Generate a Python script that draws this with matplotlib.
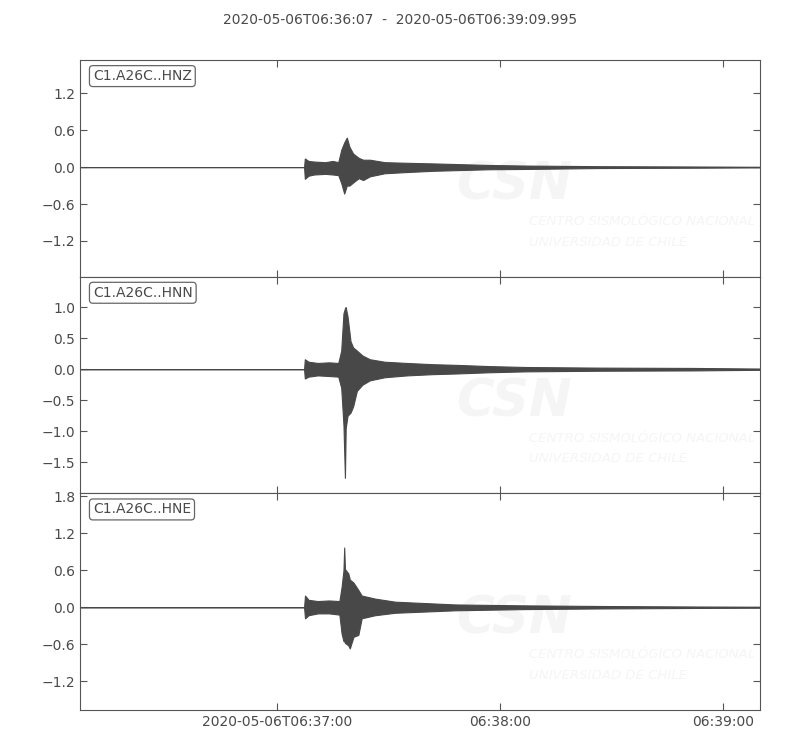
import numpy as np
import matplotlib.pyplot as plt

# --- Дані: огинаюча сейсмограм (секунди від 06:36:07, амплітуди) ---
t_end = 182.995
title = "2020-05-06T06:36:07  -  2020-05-06T06:39:09.995"
channels = ["C1.A26C..HNZ", "C1.A26C..HNN", "C1.A26C..HNE"]

hnz_t = [0, 60.3, 60.5, 61.5, 63, 66, 68, 69.5, 70.3, 71.1, 71.8, 72.5, 73.5, 75, 76.2,
         78, 82, 88, 95, 101, 110, 120, 140, 165, t_end]
hnz_hi = [0, 0, 0.14, 0.10, 0.09, 0.08, 0.10, 0.08, 0.28, 0.40, 0.48, 0.33, 0.22, 0.15, 0.12,
          0.12, 0.08, 0.07, 0.06, 0.05, 0.035, 0.025, 0.015, 0.01, 0.005]
hnz_lo = [0, 0, -0.19, -0.14, -0.12, -0.11, -0.12, -0.13, -0.26, -0.43, -0.30, -0.30, -0.25, -0.18, -0.21,
          -0.15, -0.10, -0.08, -0.06, -0.05, -0.035, -0.03, -0.015, -0.01, -0.005]

hnn_t = [0, 60.3, 60.5, 61.5, 64, 67, 69.5, 70.3, 70.9, 71.3, 71.5, 72.0, 72.8, 73.5, 74.5,
         76, 78, 82, 88, 95, 101, 110, 120, 140, 165, t_end]
hnn_hi = [0, 0, 0.16, 0.12, 0.10, 0.11, 0.10, 0.30, 0.90, 0.98, 1.00, 0.85, 0.45, 0.35, 0.30,
          0.22, 0.16, 0.12, 0.10, 0.08, 0.07, 0.05, 0.035, 0.025, 0.02, 0.01]
hnn_lo = [0, 0, -0.15, -0.12, -0.10, -0.11, -0.12, -0.30, -0.90, -1.75, -0.95, -0.75, -0.70, -0.60, -0.35,
          -0.25, -0.18, -0.13, -0.10, -0.08, -0.07, -0.05, -0.035, -0.025, -0.02, -0.01]

hne_t = [0, 60.3, 60.55, 61.5, 64, 67, 69.8, 70.4, 70.9, 71.1, 71.3, 72.2, 72.6, 73.6, 74.9,
         75.8, 79.4, 84.8, 101, 120, 140, 165, t_end]
hne_hi = [0, 0, 0.19, 0.12, 0.10, 0.11, 0.10, 0.33, 0.60, 0.97, 0.62, 0.55, 0.45, 0.40, 0.28,
          0.19, 0.14, 0.09, 0.045, 0.03, 0.02, 0.012, 0.008]
hne_lo = [0, 0, -0.18, -0.13, -0.10, -0.10, -0.12, -0.43, -0.55, -0.55, -0.58, -0.62, -0.67, -0.48, -0.45,
          -0.18, -0.13, -0.09, -0.05, -0.03, -0.02, -0.012, -0.008]

ylims = [(-1.78, 1.74), (-2.0, 1.49), (-1.67, 1.85)]
yticks = [[-1.2, -0.6, 0.0, 0.6, 1.2],
          [-1.5, -1.0, -0.5, 0.0, 0.5, 1.0],
          [-1.2, -0.6, 0.0, 0.6, 1.2, 1.8]]
xticks = [53, 113, 173]
xlabels = ["2020-05-06T06:37:00", "06:38:00", "06:39:00"]

traces = [(hnz_t, hnz_hi, hnz_lo), (hnn_t, hnn_hi, hnn_lo), (hne_t, hne_hi, hne_lo)]

wave_col = "#484848"
txt_col = "#4a4a4a"
frame_col = "#555555"
mark_col = "#f5f5f5"

plt.rcParams["font.family"] = ["DejaVu Sans"]
fig, axes = plt.subplots(3, 1, figsize=(8, 7.5), dpi=100, sharex=True)
plt.subplots_adjust(left=0.1, right=0.95, top=0.92, bottom=0.0533, hspace=0)
fig.suptitle(title, y=0.982, fontsize=10, color=txt_col)

for i, ax in enumerate(axes):
    tt, hi, lo = traces[i]
    # водяний знак
    ax.text(0.553, 0.42, "CSN", transform=ax.transAxes, fontsize=37, fontweight="bold",
            fontstyle="italic", color=mark_col, ha="left", va="center", zorder=0)
    ax.text(0.66, 0.255, "CENTRO SISMOLÓGICO NACIONAL", transform=ax.transAxes, fontsize=9.5,
            fontstyle="italic", color=mark_col, ha="left", va="center", zorder=0)
    ax.text(0.66, 0.16, "UNIVERSIDAD DE CHILE", transform=ax.transAxes, fontsize=9.5,
            fontstyle="italic", color=mark_col, ha="left", va="center", zorder=0)

    ax.fill_between(tt, lo, hi, color=wave_col, edgecolor=wave_col, lw=0.8, zorder=2)
    ax.set_xlim(0, t_end)
    ax.set_ylim(*ylims[i])
    ax.set_yticks(yticks[i])
    ax.set_yticklabels(["%.1f" % v if v >= 0 else "\u2212%.1f" % -v for v in yticks[i]])
    ax.text(0.019, 0.958, channels[i], transform=ax.transAxes, ha="left", va="top",
            fontsize=10, color=txt_col, zorder=5,
            bbox=dict(boxstyle="round,pad=0.25", fc="white", ec="#666666", lw=0.9))
    ax.tick_params(direction="in", top=True, right=True, colors=frame_col,
                   labelcolor=txt_col, labelsize=10, length=5)
    for s in ax.spines.values():
        s.set_color(frame_col)

axes[-1].set_xticks(xticks)
axes[-1].set_xticklabels(xlabels)

fig.savefig("out.png", dpi=100)
